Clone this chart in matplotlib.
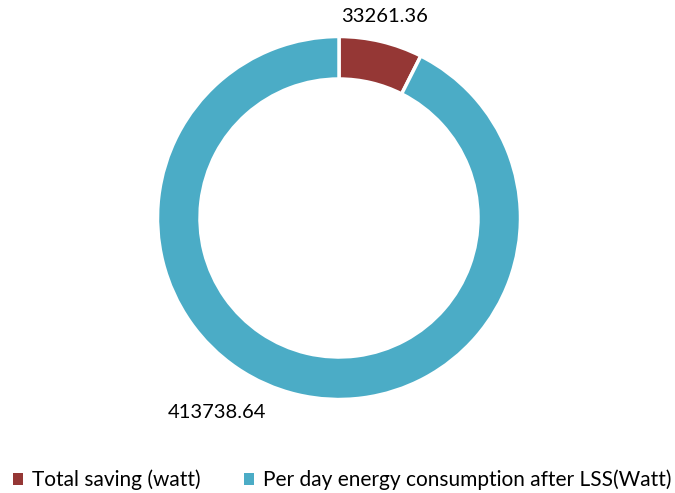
import matplotlib.pyplot as plt
from matplotlib.patches import Patch

# Energy figures (watt)
labels = ["Total saving (watt)", "Per day energy consumption after LSS(Watt)"]
values = [33261.36, 413738.64]
colors = ["#953735", "#4BACC6"]

plt.rcParams['font.family'] = ['Lato', 'DejaVu Sans']

fig = plt.figure(figsize=(6.75, 4.93), dpi=100)
ax = fig.add_axes([0, 0, 1, 1])

# axes in pixel units so the ring sits where we want it
cx, cy, r = 339, 493 - 218, 181.5
wedges, _ = ax.pie(values, colors=colors, startangle=90, counterclock=False,
                   center=(cx, cy), radius=r,
                   wedgeprops=dict(width=r - 139, edgecolor="white", linewidth=2.5))
ax.set_xlim(0, 675)
ax.set_ylim(0, 493)
ax.set_aspect("equal")
ax.axis("off")

# value labels just outside the ring
ax.text(385, 493 - 17, "%.2f" % values[0], ha="center", va="center", fontsize=14.5, color="#000000")
ax.text(217, 493 - 412, "%.2f" % values[1], ha="center", va="center", fontsize=14.5, color="#000000")

handles = [Patch(facecolor=c, edgecolor="none") for c in colors]
ax.legend(handles, labels, loc="center", bbox_to_anchor=(342 / 675, 1 - 480 / 493),
          ncol=2, frameon=False, fontsize=15, handlelength=0.5, handleheight=0.5,
          handletextpad=0.4, columnspacing=2.1)

fig.savefig("out.png", dpi=100)
